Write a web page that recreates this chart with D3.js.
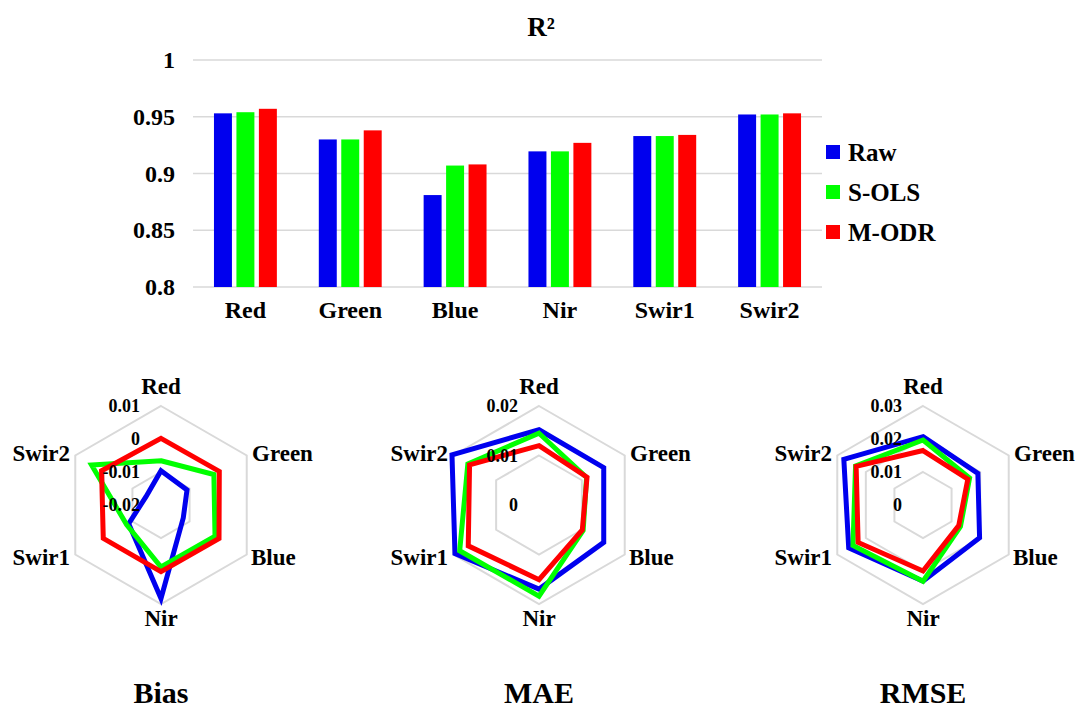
<!DOCTYPE html>
<meta charset="utf-8">
<body style="margin:0">
<script src="https://d3js.org/d3.v7.min.js"></script>
<script>

var bands = ["Red", "Green", "Blue", "Nir", "Swir1", "Swir2"];
var methods = ["Raw", "S-OLS", "M-ODR"];
var colors = ["#0000ee", "#00ff00", "#ff0000"];

// R2 per band
var r2Raw  = [0.953, 0.930, 0.881, 0.9195, 0.933, 0.952];
var r2Sols = [0.954, 0.930, 0.907, 0.9195, 0.933, 0.952];
var r2Modr = [0.957, 0.938, 0.908, 0.927, 0.934, 0.953];
var r2Ticks = [0.8, 0.85, 0.9, 0.95, 1];
var r2TickLabels = ["0.8", "0.85", "0.9", "0.95", "1"];

// radar values
var biasRaw  = [-0.0096, -0.0109, -0.0122, 0.0083, -0.0087, -0.0148];
var biasSols = [-0.0066, -0.0015, -0.0011, -0.0012, -0.0080, 0.0043];
var biasModr = [0.0002, 0.0004, 0.0003, 0.0002, 0.0002, 0.0008];
var biasTicks = [-0.02, -0.01, 0, 0.01];
var biasTickLabels = ["-0.02", "-0.01", "0", "0.01"];

var maeRaw  = [0.0152, 0.0151, 0.0151, 0.0170, 0.0196, 0.0203];
var maeSols = [0.0145, 0.0111, 0.0103, 0.0184, 0.0185, 0.0166];
var maeModr = [0.0120, 0.0112, 0.0101, 0.0151, 0.0165, 0.0162];
var maeTicks = [0, 0.01, 0.02];
var maeTickLabels = ["0", "0.01", "0.02"];

var rmseRaw  = [0.0207, 0.0192, 0.0198, 0.0231, 0.0260, 0.0277];
var rmseSols = [0.0197, 0.0163, 0.0131, 0.0231, 0.0245, 0.0236];
var rmseModr = [0.0165, 0.0157, 0.0125, 0.0200, 0.0227, 0.0234];
var rmseTicks = [0, 0.01, 0.02, 0.03];
var rmseTickLabels = ["0", "0.01", "0.02", "0.03"];

var svg = d3.select("body").append("svg")
    .attr("width", 1081)
    .attr("height", 709);

// all text: bold Times-like
function serif(sel, size) {
  sel.attr("font-family", "Times New Roman")
     .attr("font-weight", "bold")
     .attr("font-size", size)
     .attr("fill", "#000");
}

// ---- bar chart ----
var plot = {left: 193, right: 822, top: 60, bottom: 287};

var x0 = d3.scaleBand()
    .domain(bands)
    .range([plot.left, plot.right])
    .paddingInner(0.4)
    .paddingOuter(0.2);

var x1 = d3.scaleBand()
    .domain(methods)
    .range([0, x0.bandwidth()])
    .paddingInner(0.2);

var y = d3.scaleLinear()
    .domain([0.8, 1])
    .range([plot.bottom, plot.top]);

var color = d3.scaleOrdinal().domain(methods).range(colors);

svg.append("text")
    .attr("x", 541)
    .attr("y", 36)
    .attr("text-anchor", "middle")
    .call(serif, 27)
    .text("R²");

svg.append("g")
    .selectAll("line")
    .data(r2Ticks)
  .enter().append("line")
    .attr("x1", plot.left)
    .attr("x2", plot.right)
    .attr("y1", function(d) { return y(d); })
    .attr("y2", function(d) { return y(d); })
    .attr("stroke", "#d9d9d9")
    .attr("stroke-width", 1.5);

var yAxis = d3.axisLeft(y)
    .tickValues(r2Ticks)
    .tickSize(0)
    .tickPadding(18)
    .tickFormat(function(d, i) { return r2TickLabels[i]; });

var yg = svg.append("g")
    .attr("transform", "translate(" + plot.left + ",0)")
    .call(yAxis);
yg.select(".domain").remove();
yg.call(serif, 24);
yg.selectAll("text").call(serif, 24);

var xAxis = d3.axisBottom(x0).tickSize(0).tickPadding(14);

var xg = svg.append("g")
    .attr("transform", "translate(0," + plot.bottom + ")")
    .call(xAxis);
xg.select(".domain").remove();
xg.call(serif, 24);
xg.selectAll("text").call(serif, 24);

var r2Series = [r2Raw, r2Sols, r2Modr];
var rows = bands.map(function(b, i) {
  return {band: b, values: methods.map(function(m, j) { return {method: m, value: r2Series[j][i]}; })};
});

svg.append("g").selectAll("g")
    .data(rows)
  .enter().append("g")
    .attr("transform", function(d) { return "translate(" + x0(d.band) + ",0)"; })
  .selectAll("rect")
    .data(function(d) { return d.values; })
  .enter().append("rect")
    .attr("x", function(d) { return x1(d.method); })
    .attr("width", x1.bandwidth())
    .attr("y", function(d) { return y(d.value); })
    .attr("height", function(d) { return plot.bottom - y(d.value); })
    .attr("fill", function(d) { return color(d.method); });

var legend = svg.append("g").selectAll("g")
    .data(methods)
  .enter().append("g")
    .attr("transform", function(d, i) { return "translate(826," + (152 + i * 40) + ")"; });

legend.append("rect")
    .attr("x", 0)
    .attr("y", -7)
    .attr("width", 14)
    .attr("height", 14)
    .attr("fill", color);

legend.append("text")
    .attr("x", 22)
    .attr("dy", "0.35em")
    .call(serif, 25)
    .text(function(d) { return d; });

// ---- radar charts ----
var R = 99;
var angle = function(i) { return i * Math.PI * 2 / bands.length; };

function radar(cx, cy, title, ticks, tickLabels, series) {
  var g = svg.append("g").attr("transform", "translate(" + cx + "," + cy + ")");
  var r = d3.scaleLinear().domain([ticks[0], ticks[ticks.length - 1]]).range([0, R]);

  var ring = d3.lineRadial()
      .angle(function(d, i) { return angle(i); })
      .radius(function(d) { return r(d); })
      .curve(d3.curveLinearClosed);

  g.selectAll(".ring")
      .data(ticks.slice(1))
    .enter().append("path")
      .attr("class", "ring")
      .attr("d", function(t) { return ring(bands.map(function() { return t; })); })
      .attr("fill", "none")
      .attr("stroke", "#d9d9d9")
      .attr("stroke-width", 2);

  series.forEach(function(vals, j) {
    g.append("path")
        .attr("d", ring(vals))
        .attr("fill", "none")
        .attr("stroke", colors[j])
        .attr("stroke-width", 5)
        .attr("stroke-linejoin", "miter");
  });

  g.selectAll(".tick-label")
      .data(ticks)
    .enter().append("text")
      .attr("class", "tick-label")
      .attr("x", -21)
      .attr("y", function(d) { return -r(d); })
      .attr("dy", "0.35em")
      .attr("text-anchor", "end")
      .call(serif, 18)
      .text(function(d, i) { return tickLabels[i]; });

  var labelPos = [
    {x: 0, y: -119, anchor: "middle"},
    {x: 91, y: -52, anchor: "start"},
    {x: 90, y: 52, anchor: "start"},
    {x: 0, y: 113, anchor: "middle"},
    {x: -91, y: 52, anchor: "end"},
    {x: -91, y: -52, anchor: "end"}
  ];

  g.selectAll(".axis-label")
      .data(bands)
    .enter().append("text")
      .attr("class", "axis-label")
      .attr("x", function(d, i) { return labelPos[i].x; })
      .attr("y", function(d, i) { return labelPos[i].y; })
      .attr("dy", "0.35em")
      .attr("text-anchor", function(d, i) { return labelPos[i].anchor; })
      .call(serif, 23)
      .text(function(d) { return d; });

  svg.append("text")
      .attr("x", cx)
      .attr("y", 703)
      .attr("text-anchor", "middle")
      .call(serif, 30)
      .text(title);
}

radar(161, 505, "Bias", biasTicks, biasTickLabels, [biasRaw, biasSols, biasModr]);
radar(539, 505, "MAE", maeTicks, maeTickLabels, [maeRaw, maeSols, maeModr]);
radar(923, 505, "RMSE", rmseTicks, rmseTickLabels, [rmseRaw, rmseSols, rmseModr]);

</script>
